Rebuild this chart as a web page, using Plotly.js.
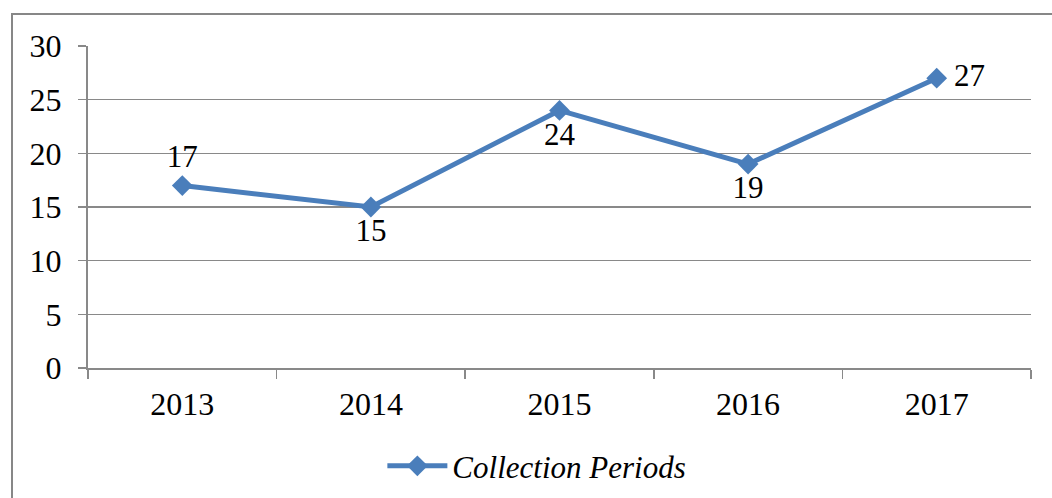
<!DOCTYPE html>
<html>
<head>
<meta charset="utf-8">
<script src="https://cdn.plot.ly/plotly-3.0.1.min.js"></script>
<style>html,body{margin:0;padding:0;background:#fff;}#chart{width:1052px;height:498px;}</style>
</head>
<body>
<div id="chart"></div>
<script>
const years = ["2013", "2014", "2015", "2016", "2017"];
const values = [17, 15, 24, 19, 27];
const labelPositions = ["top center", "bottom center", "bottom center", "bottom center", "middle right"];
const seriesName = "<i>Collection Periods</i>";

const FONT = "'Liberation Serif', 'Times New Roman', serif";
const GRID = "#898989";

const trace = {
  x: years,
  y: values,
  type: "scatter",
  mode: "lines+markers+text",
  name: seriesName,
  text: values.map((v, i) => (labelPositions[i] === "middle right" ? "\u2009" : "") + String(v)),
  textposition: labelPositions,
  textfont: {family: FONT, size: 31, color: "#000"},
  line: {color: "#4A7EBB", width: 5},
  marker: {symbol: "diamond", size: 16, color: "#4A7EBB"},
  cliponaxis: false
};

const layout = {
  width: 1052, height: 498,
  margin: {l: 88, r: 21, t: 46, b: 130, autoexpand: false},
  paper_bgcolor: "#fff", plot_bgcolor: "#fff",
  font: {family: FONT, size: 32, color: "#000"},
  showlegend: true,
  legend: {orientation: "h", x: 0.476, xanchor: "center", yref: "container", y: 0.064, yanchor: "middle",
           font: {family: FONT, size: 31, color: "#000"}, itemwidth: 60},
  xaxis: {
    type: "category", range: [-0.5, 4.5], tickson: "boundaries",
    ticks: "outside", ticklen: 9, tickwidth: 1.5, tickcolor: GRID,
    showline: true, linecolor: GRID, linewidth: 2, showgrid: false,
    ticklabelstandoff: 7, fixedrange: true
  },
  yaxis: {
    range: [0, 30], dtick: 5, tick0: 0,
    ticks: "outside", ticklen: 8, tickwidth: 1.5, tickcolor: GRID,
    showline: true, linecolor: GRID, linewidth: 2,
    showgrid: true, gridcolor: GRID, gridwidth: 1.5, zeroline: false,
    ticklabelstandoff: 10, fixedrange: true
  },
  shapes: [{
    type: "rect", xref: "paper", yref: "paper",
    x0: (12 - 88) / 943, x1: 1.1, y0: -0.6, y1: (368 - 14) / 322,
    line: {color: "#878787", width: 2}, fillcolor: "rgba(0,0,0,0)", layer: "below"
  }]
};

Plotly.newPlot("chart", [trace], layout, {displayModeBar: false, staticPlot: true});
</script>
</body>
</html>
